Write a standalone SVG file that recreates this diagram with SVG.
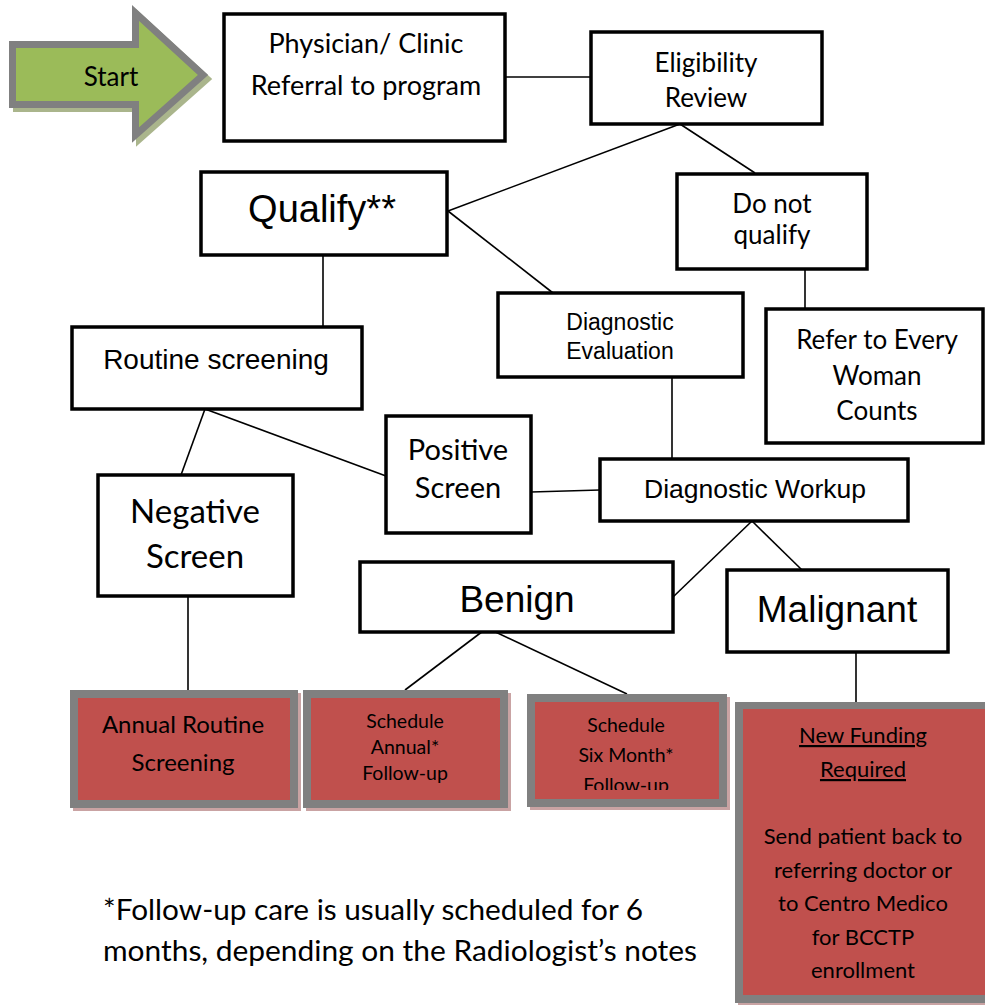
<svg xmlns="http://www.w3.org/2000/svg" width="985" height="1005" viewBox="0 0 985 1005">
<style>
.box{fill:#fff;stroke:#000;stroke-width:3.5}
.cal{font-family:Lato,"Liberation Sans",sans-serif;fill:#000;text-anchor:middle}
.tah{font-family:"Liberation Sans",Arial,sans-serif;fill:#000;text-anchor:middle}
.shadow{fill:#c9a3a3}
.gray{fill:#808080}
.red{fill:#c0504d}
#connectors line{stroke:#000;stroke-width:1.6}
</style>
<defs>
<clipPath id="clipSix"><rect x="535" y="702" width="184" height="88"/></clipPath>
</defs>
<rect width="985" height="1005" fill="#fff"/>

<g id="connectors">
<line x1="505" y1="77" x2="591" y2="77"/>
<line x1="680" y1="124" x2="448" y2="211"/>
<line x1="680" y1="124" x2="755" y2="173"/>
<line x1="448" y1="211" x2="553" y2="293"/>
<line x1="323" y1="255" x2="323" y2="327"/>
<line x1="805" y1="269" x2="805" y2="309"/>
<line x1="672" y1="377" x2="672" y2="459"/>
<line x1="205" y1="409" x2="181" y2="475"/>
<line x1="205" y1="409" x2="386" y2="476"/>
<line x1="531" y1="492" x2="600" y2="490"/>
<line x1="752" y1="521" x2="673" y2="597"/>
<line x1="752" y1="521" x2="802" y2="570"/>
<line x1="487" y1="628" x2="405" y2="690"/>
<line x1="487" y1="628" x2="627" y2="694"/>
<line x1="188" y1="596" x2="188" y2="690"/>
<line x1="856" y1="652" x2="856" y2="702"/>
</g>

<g id="start">
<polygon points="16.5,48.5 139.5,48.5 139.5,17 207,79 139.5,139 139.5,108.5 16.5,108.5" fill="#aab58c" stroke="#aab58c" stroke-width="7"/>
<polygon points="12.5,44.5 135.5,44.5 135.5,13 203,75 135.5,135 135.5,104.5 12.5,104.5" fill="#9bbb59" stroke="#808080" stroke-width="7"/>
<text class="cal" x="111" y="86" font-size="26">Start</text>
</g>

<g id="physician">
<rect class="box" x="224" y="14" width="281" height="127"/>
<text class="cal" x="366" y="53" font-size="27">Physician/ Clinic</text>
<text class="cal" x="366" y="95" font-size="27">Referral to program</text>
</g>

<g id="eligibility">
<rect class="box" x="591" y="32" width="231" height="92"/>
<text class="cal" x="706" y="72" font-size="26">Eligibility</text>
<text class="cal" x="706" y="107" font-size="26">Review</text>
</g>

<g id="qualify">
<rect class="box" x="201" y="172" width="246" height="83"/>
<text class="tah" x="322" y="222" font-size="38">Qualify**</text>
</g>

<g id="donotqualify">
<rect class="box" x="677" y="174" width="190" height="95"/>
<text class="cal" x="772" y="213" font-size="26">Do not</text>
<text class="cal" x="772" y="244" font-size="26">qualify</text>
</g>

<g id="refer">
<rect class="box" x="766" y="309" width="217" height="134"/>
<text class="cal" x="877" y="349" font-size="26">Refer to Every</text>
<text class="cal" x="877" y="385" font-size="26">Woman</text>
<text class="cal" x="877" y="420" font-size="26">Counts</text>
</g>

<g id="diageval">
<rect class="box" x="498" y="293" width="245" height="84"/>
<text class="tah" x="620" y="330" font-size="23">Diagnostic</text>
<text class="tah" x="620" y="359" font-size="23">Evaluation</text>
</g>

<g id="routine">
<rect class="box" x="72" y="327" width="290" height="82"/>
<text class="tah" x="216" y="369" font-size="28">Routine screening</text>
</g>

<g id="negative">
<rect class="box" x="98" y="475" width="195" height="121"/>
<text class="cal" x="195" y="523" font-size="33">Negative</text>
<text class="cal" x="195" y="568" font-size="33">Screen</text>
</g>

<g id="positive">
<rect class="box" x="386" y="416" width="145" height="117"/>
<text class="cal" x="458" y="460" font-size="29">Positive</text>
<text class="cal" x="458" y="498" font-size="29">Screen</text>
</g>

<g id="workup">
<rect class="box" x="600" y="459" width="308" height="62"/>
<text class="tah" x="755" y="498" font-size="26.5">Diagnostic Workup</text>
</g>

<g id="benign">
<rect class="box" x="360" y="562" width="313" height="70"/>
<text class="tah" x="517" y="612" font-size="37">Benign</text>
</g>

<g id="malignant">
<rect class="box" x="727" y="570" width="221" height="82"/>
<text class="tah" x="837" y="622" font-size="37">Malignant</text>
</g>

<g id="annual-routine">
<rect class="shadow" x="73" y="693" width="228" height="118"/>
<rect class="gray" x="70" y="690" width="228" height="118"/>
<rect class="red" x="78" y="698" width="212" height="102"/>
<text class="cal" x="183" y="733" font-size="24">Annual Routine</text>
<text class="cal" x="183" y="771" font-size="24">Screening</text>
</g>

<g id="schedule-annual">
<rect class="shadow" x="306" y="693" width="205" height="118"/>
<rect class="gray" x="303" y="690" width="205" height="118"/>
<rect class="red" x="311" y="698" width="189" height="102"/>
<text class="cal" x="405" y="728" font-size="19.5">Schedule</text>
<text class="cal" x="405" y="754" font-size="19.5">Annual*</text>
<text class="cal" x="405" y="780" font-size="19.5">Follow-up</text>
</g>

<g id="schedule-six">
<rect class="shadow" x="530" y="697" width="200" height="113"/>
<rect class="gray" x="527" y="694" width="200" height="113"/>
<rect class="red" x="535" y="702" width="184" height="97"/>
<text class="cal" x="626" y="732" font-size="19.5">Schedule</text>
<text class="cal" x="626" y="762" font-size="19.5">Six Month*</text>
<text class="cal" x="626" y="792" font-size="19.5" clip-path="url(#clipSix)">Follow-up</text>
</g>

<g id="new-funding">
<rect class="shadow" x="738" y="705" width="260" height="301"/>
<rect class="gray" x="735" y="702" width="260" height="301"/>
<rect class="red" x="743" y="709" width="250" height="286"/>
<text class="cal" x="863" y="743" font-size="22" text-decoration="underline">New Funding</text>
<text class="cal" x="863" y="777" font-size="22" text-decoration="underline">Required</text>
<text class="cal" x="863" y="844" font-size="22">Send patient back to</text>
<text class="cal" x="863" y="878" font-size="22">referring doctor or</text>
<text class="cal" x="863" y="911" font-size="22">to Centro Medico</text>
<text class="cal" x="863" y="945" font-size="22">for BCCTP</text>
<text class="cal" x="863" y="978" font-size="22">enrollment</text>
</g>

<g id="footnote">
<text class="cal" x="103" y="920" font-size="29" style="text-anchor:start" textLength="540" lengthAdjust="spacingAndGlyphs">*Follow-up care is usually scheduled for 6</text>
<text class="cal" x="103" y="961" font-size="29" style="text-anchor:start" textLength="594" lengthAdjust="spacingAndGlyphs">months, depending on the Radiologist’s notes</text>
</g>
</svg>
